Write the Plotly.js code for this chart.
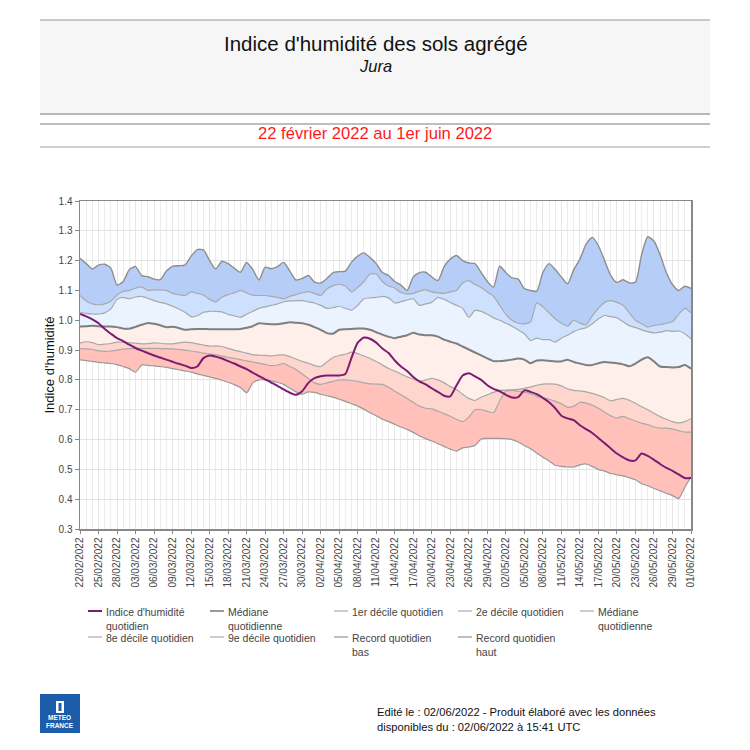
<!DOCTYPE html>
<html>
<head>
<meta charset="utf-8">
<script src="https://cdn.plot.ly/plotly-3.0.1.min.js"></script>
<style>
html,body{margin:0;padding:0;background:#fff;}
#chart{width:750px;height:750px;}
</style>
</head>
<body>
<div id="chart"></div>
<script>
// ---- Data (daily values, 22/02/2022 -> 01/06/2022) ----
const startDate = '2022-02-22';
const nDays = 100;

const indice = [1.021,1.013,1.003,0.990,0.971,0.955,0.940,0.930,0.918,0.907,
0.898,0.890,0.882,0.875,0.868,0.861,0.854,0.848,0.840,0.845,
0.873,0.882,0.878,0.872,0.863,0.855,0.845,0.836,0.824,0.813,
0.802,0.791,0.780,0.768,0.757,0.750,0.762,0.790,0.806,0.812,
0.815,0.815,0.815,0.820,0.875,0.925,0.942,0.938,0.925,0.905,
0.890,0.865,0.845,0.830,0.810,0.795,0.785,0.772,0.760,0.747,
0.745,0.781,0.815,0.822,0.812,0.800,0.782,0.770,0.762,0.750,
0.741,0.742,0.765,0.760,0.752,0.740,0.725,0.705,0.680,0.671,
0.665,0.648,0.635,0.622,0.605,0.588,0.570,0.553,0.540,0.530,
0.530,0.553,0.545,0.532,0.518,0.505,0.495,0.483,0.471,0.471];

const recordBas = [0.867,0.865,0.862,0.859,0.857,0.855,0.851,0.845,0.838,0.826,
0.850,0.849,0.847,0.845,0.842,0.838,0.834,0.830,0.826,0.820,
0.815,0.810,0.805,0.799,0.792,0.784,0.775,0.757,0.790,0.800,
0.800,0.797,0.792,0.785,0.772,0.760,0.752,0.760,0.758,0.752,
0.747,0.742,0.735,0.728,0.720,0.712,0.702,0.690,0.680,0.668,
0.660,0.651,0.642,0.634,0.624,0.612,0.603,0.595,0.586,0.577,
0.568,0.561,0.572,0.575,0.580,0.602,0.604,0.604,0.604,0.603,
0.600,0.592,0.580,0.569,0.555,0.541,0.528,0.514,0.510,0.508,
0.508,0.515,0.518,0.510,0.500,0.494,0.486,0.482,0.478,0.472,
0.465,0.452,0.445,0.436,0.428,0.420,0.412,0.402,0.440,0.475];

const decile1 = [0.905,0.904,0.902,0.898,0.896,0.897,0.900,0.903,0.905,0.906,
0.906,0.906,0.906,0.905,0.905,0.904,0.902,0.900,0.897,0.894,
0.890,0.887,0.884,0.880,0.876,0.872,0.868,0.864,0.860,0.856,
0.852,0.848,0.850,0.855,0.845,0.835,0.820,0.805,0.790,0.785,
0.790,0.795,0.800,0.800,0.798,0.795,0.790,0.787,0.786,0.785,
0.775,0.762,0.750,0.738,0.725,0.712,0.705,0.703,0.695,0.687,
0.678,0.668,0.660,0.675,0.700,0.700,0.695,0.690,0.730,0.762,
0.765,0.762,0.758,0.754,0.745,0.740,0.735,0.728,0.720,0.708,
0.712,0.725,0.722,0.715,0.705,0.692,0.680,0.672,0.678,0.670,
0.662,0.655,0.650,0.642,0.638,0.638,0.635,0.630,0.625,0.625];

const decile2 = [0.924,0.928,0.925,0.918,0.920,0.922,0.927,0.926,0.925,0.923,
0.921,0.922,0.924,0.923,0.921,0.921,0.924,0.927,0.925,0.921,
0.917,0.913,0.914,0.912,0.906,0.900,0.895,0.890,0.884,0.883,
0.882,0.880,0.883,0.884,0.878,0.870,0.862,0.856,0.848,0.845,
0.860,0.875,0.882,0.886,0.893,0.888,0.880,0.872,0.862,0.850,
0.838,0.830,0.820,0.810,0.803,0.795,0.800,0.805,0.800,0.790,
0.778,0.768,0.752,0.738,0.731,0.742,0.750,0.758,0.765,0.766,
0.767,0.768,0.772,0.776,0.782,0.786,0.787,0.786,0.780,0.770,
0.765,0.763,0.760,0.755,0.748,0.740,0.730,0.735,0.738,0.732,
0.722,0.710,0.700,0.688,0.677,0.668,0.660,0.656,0.660,0.670];

const mediane = [0.979,0.980,0.982,0.980,0.979,0.979,0.977,0.972,0.972,0.978,
0.985,0.991,0.988,0.983,0.977,0.978,0.974,0.968,0.970,0.971,
0.971,0.970,0.970,0.970,0.970,0.970,0.971,0.975,0.980,0.990,
0.988,0.987,0.987,0.990,0.993,0.992,0.990,0.985,0.977,0.968,
0.957,0.955,0.968,0.970,0.971,0.972,0.972,0.968,0.960,0.952,
0.945,0.940,0.945,0.950,0.958,0.952,0.950,0.950,0.945,0.935,
0.928,0.922,0.912,0.902,0.892,0.882,0.872,0.863,0.863,0.865,
0.868,0.872,0.868,0.856,0.865,0.866,0.864,0.862,0.862,0.868,
0.860,0.855,0.850,0.850,0.856,0.860,0.858,0.856,0.852,0.846,
0.855,0.868,0.876,0.862,0.845,0.843,0.842,0.843,0.850,0.838];

const decile8 = [1.027,1.023,1.021,1.021,1.025,1.038,1.070,1.077,1.072,1.078,
1.080,1.074,1.066,1.060,1.055,1.047,1.038,1.027,1.012,1.015,
1.027,1.030,1.030,1.028,1.020,1.015,1.010,1.020,1.030,1.040,
1.045,1.050,1.055,1.062,1.065,1.066,1.066,1.062,1.058,1.050,
1.040,1.042,1.047,1.040,1.034,1.050,1.072,1.075,1.077,1.080,
1.075,1.058,1.062,1.068,1.072,1.050,1.055,1.060,1.077,1.070,
1.060,1.050,1.040,1.010,1.033,1.030,1.020,1.008,1.000,0.990,
0.980,0.968,0.955,0.932,0.940,0.935,0.935,0.927,0.940,0.950,
0.962,0.970,0.975,0.988,1.005,1.016,1.012,1.008,0.995,0.982,
0.976,0.968,0.962,0.958,0.960,0.965,0.963,0.964,0.955,0.938];

const decile9 = [1.083,1.065,1.055,1.052,1.055,1.064,1.085,1.097,1.100,1.108,
1.112,1.100,1.102,1.102,1.100,1.090,1.086,1.083,1.095,1.090,
1.085,1.070,1.062,1.078,1.086,1.092,1.100,1.092,1.084,1.083,
1.083,1.080,1.077,1.072,1.080,1.086,1.092,1.096,1.090,1.083,
1.105,1.116,1.120,1.115,1.095,1.110,1.130,1.155,1.155,1.130,
1.115,1.108,1.093,1.088,1.090,1.098,1.102,1.095,1.092,1.090,
1.095,1.100,1.125,1.133,1.120,1.110,1.095,1.080,1.050,1.020,
1.000,0.990,0.988,0.995,1.058,1.045,1.025,1.005,0.990,0.980,
1.000,0.990,0.985,1.015,1.040,1.060,1.066,1.060,1.050,1.025,
1.000,0.988,0.977,0.983,0.985,0.990,0.995,1.020,1.040,1.025];

const recordHaut = [1.208,1.190,1.172,1.185,1.188,1.175,1.118,1.130,1.170,1.180,
1.150,1.146,1.138,1.136,1.165,1.181,1.183,1.185,1.215,1.237,
1.236,1.200,1.172,1.198,1.190,1.175,1.161,1.194,1.170,1.135,
1.178,1.173,1.180,1.194,1.165,1.135,1.140,1.150,1.128,1.125,
1.140,1.160,1.163,1.165,1.195,1.215,1.226,1.210,1.190,1.160,
1.150,1.130,1.118,1.100,1.145,1.160,1.161,1.145,1.133,1.180,
1.205,1.217,1.200,1.192,1.190,1.160,1.130,1.111,1.181,1.160,
1.142,1.138,1.106,1.100,1.097,1.160,1.190,1.170,1.145,1.122,
1.170,1.205,1.255,1.278,1.250,1.200,1.150,1.127,1.136,1.125,
1.128,1.220,1.280,1.265,1.220,1.160,1.120,1.100,1.114,1.107];

const legendNames = ['Indice d\'humidité<br>quotidien', 'Médiane<br>quotidienne',
  '1er décile quotidien', '2e décile quotidien', 'Médiane<br>quotidienne',
  '8e décile quotidien', '9e décile quotidien', 'Record quotidien<br>bas', 'Record quotidien<br>haut'];
const legendColors = ['#7b1c74', '#777777', '#bdbdbd', '#bdbdbd', '#bdbdbd',
  '#bdbdbd', '#bdbdbd', '#a8a8a8', '#a8a8a8'];

// ---- dates ----
const dates = [];
{
  const d0 = new Date(startDate + 'T00:00:00Z');
  for (let i = 0; i < nDays; i++) {
    const d = new Date(d0.getTime() + i * 86400000);
    dates.push(d.toISOString().slice(0, 10));
  }
}

const FONT = 'Liberation Sans, Arial, sans-serif';
const lineGray = '#a8a8a8';
const darkGray = '#7f7f7f';

function band(name, y, fillcolor, lineColor, width, fill) {
  return {
    type: 'scatter', mode: 'lines', x: dates, y: y, name: name,
    line: {color: lineColor, width: width, shape: 'spline', smoothing: 0.6},
    fill: fill, fillcolor: fillcolor,
    showlegend: false, hoverinfo: 'skip'
  };
}

const traces = [
  band('Record quotidien bas', recordBas, null, '#9a9a9a', 1.2, 'none'),
  band('1er décile quotidien', decile1, '#ffc1b9', lineGray, 1.2, 'tonexty'),
  band('2e décile quotidien', decile2, '#ffd6ce', lineGray, 1.2, 'tonexty'),
  band('Médiane quotidienne', mediane, '#ffefeb', '#c8c8c8', 1.2, 'tonexty'),
  band('Médiane quotidienne', mediane, null, darkGray, 2, 'none'),
  band('8e décile quotidien', decile8, '#ebf3ff', lineGray, 1.2, 'tonexty'),
  band('9e décile quotidien', decile9, '#cde1ff', lineGray, 1.2, 'tonexty'),
  band('Record quotidien haut', recordHaut, '#b6cdf8', '#8e8e8e', 1.4, 'tonexty'),
  {
    type: 'scatter', mode: 'lines', x: dates, y: indice, name: 'Indice d\'humidité quotidien',
    line: {color: '#7b1c74', width: 2, shape: 'spline', smoothing: 0.6},
    showlegend: false, hoverinfo: 'skip'
  }
];

// paper coordinate helpers (plot area: x 80..691, y 201..529)
const PX = px => (px - 80) / 611;
const PY = py => (529 - py) / 328;

const shapes = [
  {type: 'rect', xref: 'paper', yref: 'paper', x0: PX(40), x1: PX(710), y0: PY(114), y1: PY(20),
   fillcolor: '#f6f6f6', line: {width: 0}},
  {type: 'line', xref: 'paper', yref: 'paper', x0: PX(40), x1: PX(710), y0: PY(20), y1: PY(20),
   line: {color: '#b8b8b8', width: 1.5}},
  {type: 'line', xref: 'paper', yref: 'paper', x0: PX(40), x1: PX(710), y0: PY(114), y1: PY(114),
   line: {color: '#a0a0a0', width: 1.5}},
  {type: 'line', xref: 'paper', yref: 'paper', x0: PX(40), x1: PX(710), y0: PY(124), y1: PY(124),
   line: {color: '#a8a8a8', width: 1.5}},
  {type: 'line', xref: 'paper', yref: 'paper', x0: PX(40), x1: PX(710), y0: PY(147), y1: PY(147),
   line: {color: '#c0c0c0', width: 1.5}},
  // logo
  {type: 'rect', xref: 'paper', yref: 'paper', x0: PX(40), x1: PX(80), y0: PY(733), y1: PY(694),
   fillcolor: '#1d5ca8', line: {width: 0}},
  {type: 'rect', xref: 'paper', yref: 'paper', x0: PX(56), x1: PX(64), y0: PY(713), y1: PY(701),
   fillcolor: '#ffffff', line: {width: 0}},
  {type: 'rect', xref: 'paper', yref: 'paper', x0: PX(58.5), x1: PX(61.5), y0: PY(711), y1: PY(703),
   fillcolor: '#1d5ca8', line: {width: 0}}
];

const annotations = [
  {xref: 'paper', yref: 'paper', x: PX(376), y: PY(43), text: 'Indice d\'humidité des sols agrégé',
   showarrow: false, xanchor: 'center', yanchor: 'middle',
   font: {family: FONT, size: 20.5, color: '#111'}},
  {xref: 'paper', yref: 'paper', x: PX(375), y: PY(66), text: '<i>Jura</i>',
   showarrow: false, xanchor: 'center', yanchor: 'middle',
   font: {family: FONT, size: 16.5, color: '#111'}},
  {xref: 'paper', yref: 'paper', x: PX(375), y: PY(134), text: '22 février 2022 au 1er juin 2022',
   showarrow: false, xanchor: 'center', yanchor: 'middle',
   font: {family: FONT, size: 16.6, color: '#ff1a1a'}},
  {xref: 'paper', yref: 'paper', x: PX(375), y: PY(704),
   text: 'Edité le : 02/06/2022 - Produit élaboré avec les données<br>disponibles du : 02/06/2022 à 15:41 UTC',
   showarrow: false, xanchor: 'left', yanchor: 'top', align: 'left',
   font: {family: FONT, size: 11.2, color: '#111'}},
  {xref: 'paper', yref: 'paper', x: PX(60), y: PY(721),
   text: '<b>METEO<br>FRANCE</b>',
   showarrow: false, xanchor: 'center', yanchor: 'middle', align: 'center',
   font: {family: FONT, size: 6.5, color: '#ffffff'}}
];

// ---- legend (5 columns, drawn as line segments + text) ----
const legCols = [88, 210, 334, 458, 580];
const legRowTop = [604, 630];
legendNames.forEach((name, i) => {
  const col = i % 5, row = Math.floor(i / 5);
  const lx = legCols[col], ty = legRowTop[row];
  shapes.push({type: 'line', xref: 'paper', yref: 'paper',
    x0: PX(lx), x1: PX(lx + 14), y0: PY(ty + 7), y1: PY(ty + 7),
    line: {color: legendColors[i], width: i === 0 ? 2 : 1.5}});
  annotations.push({xref: 'paper', yref: 'paper', x: PX(lx + 16), y: PY(ty),
    text: name, showarrow: false, xanchor: 'left', yanchor: 'top', align: 'left',
    font: {family: FONT, size: 10.5, color: '#444'}});
});

const layout = {
  width: 750, height: 750,
  margin: {l: 80, r: 59, t: 201, b: 221},
  paper_bgcolor: '#ffffff', plot_bgcolor: '#ffffff',
  font: {family: FONT, color: '#333', size: 11},
  showlegend: false,
  xaxis: {
    type: 'date',
    range: [dates[0], dates[nDays - 1]],
    tick0: dates[0], dtick: 3 * 86400000,
    tickformat: '%d/%m/%Y', tickangle: -90,
    tickfont: {family: FONT, size: 10, color: '#444'},
    showgrid: true, gridcolor: '#e6e6e6', gridwidth: 1,
    minor: {dtick: 86400000, showgrid: true, gridcolor: '#ececec', gridwidth: 1},
    showline: true, linecolor: '#888', linewidth: 1.5, mirror: true,
    ticks: 'outside', ticklen: 3, tickcolor: '#888',
    zeroline: false, fixedrange: true
  },
  yaxis: {
    range: [0.3, 1.4], dtick: 0.1, tick0: 0.3, tickformat: '.1f',
    tickfont: {family: FONT, size: 10, color: '#444'},
    showgrid: true, gridcolor: '#e3e3e3', gridwidth: 1,
    showline: true, linecolor: '#888', linewidth: 1.5, mirror: true,
    ticks: 'outside', ticklen: 4, tickcolor: '#888',
    zeroline: false, fixedrange: true,
    title: {text: 'Indice d\'humidité', font: {family: FONT, size: 13, color: '#111'}, standoff: 1}
  },
  shapes: shapes,
  annotations: annotations
};

Plotly.newPlot('chart', traces, layout, {displayModeBar: false, staticPlot: true});
</script>
</body>
</html>
